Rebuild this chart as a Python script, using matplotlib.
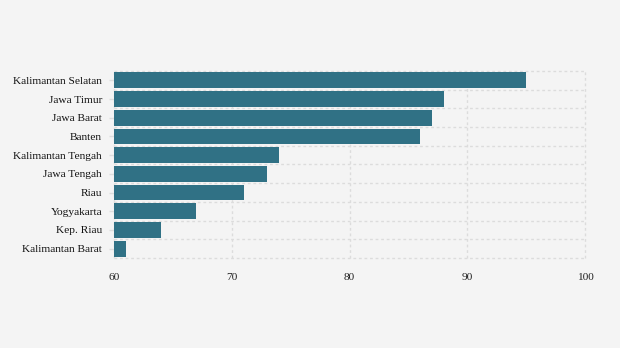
import matplotlib
matplotlib.use('Agg')
import matplotlib.pyplot as plt
import numpy as np

provinces = ['Kalimantan Selatan', 'Jawa Timur', 'Jawa Barat', 'Banten',
             'Kalimantan Tengah', 'Jawa Tengah', 'Riau', 'Yogyakarta',
             'Kep. Riau', 'Kalimantan Barat']
values = [95, 88, 87, 86, 74, 73, 71, 67, 64, 61]
x_ticks = [60, 70, 80, 90, 100]

bg = '#f4f4f4'
bar_color = '#307185'
grid_color = '#dcdcdc'

plt.rcParams['font.family'] = ['Liberation Serif', 'DejaVu Serif']

fig = plt.figure(figsize=(6.2, 3.48), dpi=100)
fig.patch.set_facecolor(bg)
ax = fig.add_axes([0.1839, 0.2586, 0.7597, 0.5374])
ax.set_facecolor(bg)

y = np.arange(len(provinces))
ax.barh(y, [v - 60 for v in values], left=60, height=0.84, color=bar_color, zorder=3)

ax.set_xlim(60, 100)
ax.set_ylim(len(provinces) - 0.5, -0.5)
ax.set_xticks(x_ticks)
ax.set_xticklabels([str(t) for t in x_ticks], fontsize=8.2, color='#222222')
ax.set_yticks(y)
ax.set_yticklabels(provinces, fontsize=8.2, color='#111111', va='center_baseline')
ax.set_yticks(np.arange(-0.5, len(provinces)), minor=True)

ax.tick_params(axis='x', length=0, pad=10.5)
ax.tick_params(axis='y', which='major', length=3.6, width=1, color='#dddddd', pad=5)
ax.tick_params(axis='y', which='minor', length=0)

ax.grid(axis='x', which='major', color=grid_color, linestyle=(0, (2, 2)), lw=1, zorder=1)
ax.grid(axis='y', which='minor', color=grid_color, linestyle=(0, (2, 2)), lw=1, zorder=1)
minor_lines = [t.gridline for t in ax.yaxis.get_minor_ticks()]
for ln in ax.get_xgridlines() + minor_lines:
    ln.set_clip_on(False)
for s in ax.spines.values():
    s.set_visible(False)

fig.savefig('out.png', dpi=100, facecolor=bg)
